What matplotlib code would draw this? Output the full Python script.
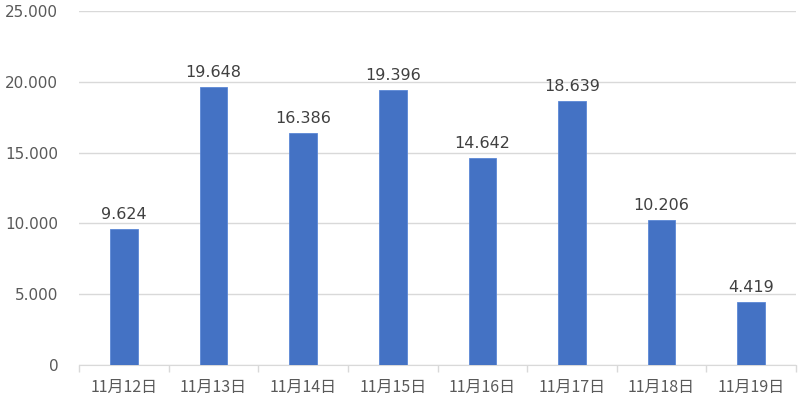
import numpy as np
import matplotlib.pyplot as plt
from matplotlib.ticker import FuncFormatter

plt.rcParams['font.family'] = ['DejaVu Sans', 'Noto Sans CJK JP']

dates = ['11月12日', '11月13日', '11月14日', '11月15日', '11月16日', '11月17日', '11月18日', '11月19日']
values = [9624, 19648, 16386, 19396, 14642, 18639, 10206, 4419]
yticks = [0, 5000, 10000, 15000, 20000, 25000]


def dotfmt(v, pos=None):
    return '{:,}'.format(int(v)).replace(',', '.')


text_color = '#595959'
fig = plt.figure(figsize=(8, 4.05), dpi=100)
ax = fig.add_axes([0.099, 0.099, 0.896, 0.874])

x = np.arange(len(dates))
ax.bar(x, values, width=0.31, color='#4472C4', edgecolor='#5B87D6', linewidth=0.6, zorder=3)
for xi, v in zip(x, values):
    ax.text(xi, v + 500, dotfmt(v), ha='center', va='bottom', fontsize=11.5, color='#404040')

ax.set_xlim(-0.5, len(dates) - 0.5)
ax.set_ylim(0, 25000)
ax.set_yticks(yticks)
ax.yaxis.set_major_formatter(FuncFormatter(dotfmt))
ax.grid(axis='y', color='#D9D9D9', linewidth=1, zorder=0)

ax.set_xticks(x)
ax.set_xticklabels(dates, fontsize=11.5, color=text_color,
                   family=['Noto Sans CJK JP', 'DejaVu Sans'])
ax.set_xticks(np.arange(len(dates) + 1) - 0.5, minor=True)
ax.tick_params(axis='x', which='major', length=0, pad=10)
ax.tick_params(axis='x', which='minor', length=5, color='#D9D9D9', width=1)
ax.tick_params(axis='y', length=0, labelsize=11, labelcolor=text_color, pad=15)

for s in ['top', 'right', 'left']:
    ax.spines[s].set_visible(False)
ax.spines['bottom'].set_color('#D9D9D9')

fig.savefig('out.png', dpi=100)
